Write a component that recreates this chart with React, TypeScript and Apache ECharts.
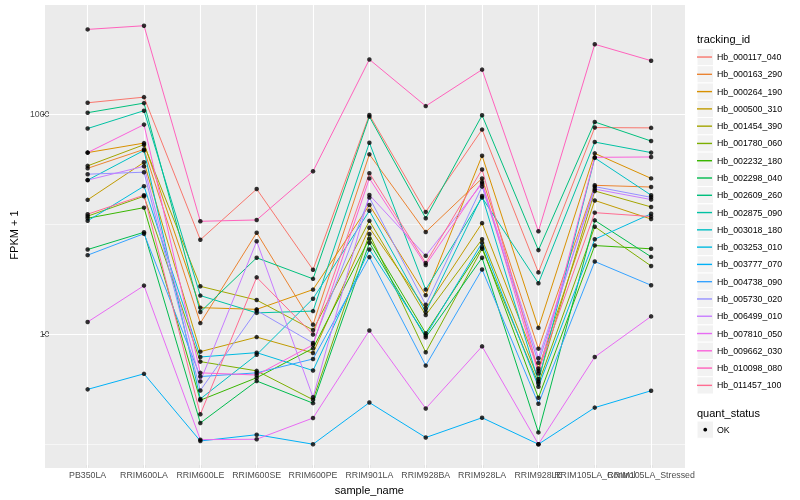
import React, { useEffect, useRef } from 'react';
import * as echarts from 'echarts';

const categories = ['PB350LA', 'RRIM600LA', 'RRIM600LE', 'RRIM600SE', 'RRIM600PE', 'RRIM901LA', 'RRIM928BA', 'RRIM928LA', 'RRIM928LE', 'RRIM105LA_Control', 'RRIM105LA_Stressed'];

const trackingIds = ['Hb_000117_040', 'Hb_000163_290', 'Hb_000264_190', 'Hb_000500_310', 'Hb_001454_390', 'Hb_001780_060', 'Hb_002232_180', 'Hb_002298_040', 'Hb_002609_260', 'Hb_002875_090', 'Hb_003018_180', 'Hb_003253_010', 'Hb_003777_070', 'Hb_004738_090', 'Hb_005730_020', 'Hb_006499_010', 'Hb_007810_050', 'Hb_009662_030', 'Hb_010098_080', 'Hb_011457_100'];

const palette = ['#F8766D', '#EA8331', '#D89000', '#C09B00', '#A3A500', '#7CAE00', '#39B600', '#00BB4E', '#00BF7D', '#00C1A3', '#00BFC4', '#00BAE0', '#00B0F6', '#35A2FF', '#9590FF', '#C77CFF', '#E76BF3', '#FA62DB', '#FF62BC', '#FF6C91'];

const hb_000117_040 = [1265, 1423, 72, 208, 38.5, 980, 129, 722, 36.4, 753, 748];
const hb_000163_290 = [321, 477, 12.6, 83.5, 12.2, 430, 84.7, 260, 7.38, 225, 217];
const hb_000264_190 = [446, 544, 17.4, 16.8, 25.4, 149, 22.6, 418, 11.4, 439, 260];
const hb_000500_310 = [166, 364, 6.93, 9.4, 6.74, 92.6, 17.1, 102, 4.87, 164, 111];
const hb_001454_390 = [338, 526, 27.2, 20.4, 10.9, 107, 14.9, 72.8, 3.91, 200, 143];
const hb_001780_060 = [118, 179, 5.63, 4.64, 2.54, 81.3, 6.84, 59.6, 3.56, 94.6, 41.6];
const hb_002232_180 = [113, 141, 2.51, 4.02, 7.43, 73.7, 10.2, 62, 2.64, 63.8, 59.6];
const hb_002298_040 = [58.7, 84.2, 1.56, 3.75, 2.36, 67.5, 9.34, 49.4, 1.28, 108, 50.4];
const hb_002609_260 = [1028, 1256, 15.9, 49.4, 31.8, 946, 113, 973, 58, 847, 568];
const hb_002875_090 = [738, 1072, 22.4, 15.6, 16.2, 548, 25.4, 174, 29, 556, 446];
const hb_003018_180 = [251, 467, 2.58, 6.5, 21, 132, 15.9, 180, 3.72, 399, 183];
const hb_003253_010 = [107, 221, 6.2, 6.79, 4.67, 58.7, 9.73, 67.5, 3.33, 72.8, 124];
const hb_003777_070 = [3.15, 4.36, 1.07, 1.22, 1.0, 2.39, 1.15, 1.74, 1.0, 2.15, 3.06];
const hb_004738_090 = [52.2, 81.8, 4.12, 4.45, 5.95, 50.1, 5.18, 38.7, 2.33, 45.7, 27.8];
const hb_005730_020 = [284, 296, 3.08, 16.4, 8.3, 174, 18.5, 219, 5.48, 219, 175];
const hb_006499_010 = [251, 335, 3.72, 69.8, 2.67, 184, 51.5, 233, 6.04, 208, 167];
const hb_007810_050 = [12.9, 27.6, 1.1, 1.11, 1.73, 10.8, 2.11, 7.74, 1.0, 6.2, 14.5];
const hb_009662_030 = [446, 801, 4.45, 4.25, 8.0, 260, 42.4, 242, 4.39, 404, 407];
const hb_010098_080 = [5870, 6340, 106, 109, 302, 3130, 1180, 2530, 86, 4300, 3050];
const hb_011457_100 = [123, 183, 1.87, 32.8, 9.94, 290, 44.3, 313, 4.64, 127, 117];

const seriesValues = [hb_000117_040, hb_000163_290, hb_000264_190, hb_000500_310, hb_001454_390, hb_001780_060, hb_002232_180, hb_002298_040, hb_002609_260, hb_002875_090, hb_003018_180, hb_003253_010, hb_003777_070, hb_004738_090, hb_005730_020, hb_006499_010, hb_007810_050, hb_009662_030, hb_010098_080, hb_011457_100];

const yMajorBreaks = [10, 1000];
const yMinorBreaks = [1, 100];
const yMin = 0.646;
const yMax = 9780;

const FONT = 'Liberation Sans, Arial, Helvetica, sans-serif';
const PANEL_L = 45;
const PANEL_R = 685;
const PANEL_T = 5;
const PANEL_B = 468;
const UNIT = (PANEL_R - PANEL_L) / 11.2;
const GRID_L = PANEL_L + 0.1 * UNIT;
const GRID_W = 11 * UNIT;
const KEY_X = 697;
const KEY_TOP = 48.4;
const KEY_H = 17.28;
const KEY_W = 16.5;

export default function App() {
  const ref = useRef<HTMLDivElement>(null);
  useEffect(() => {
    if (!ref.current) return;
    const chart = echarts.init(ref.current, undefined, { renderer: 'svg' });

    const gridLines: any[] = [];
    yMinorBreaks.forEach((v) => {
      gridLines.push([{ x: PANEL_L, yAxis: v, lineStyle: { color: '#ffffff', width: 0.55, type: 'solid' } }, { x: PANEL_R, yAxis: v }]);
    });
    yMajorBreaks.forEach((v) => {
      gridLines.push([{ x: PANEL_L, yAxis: v, lineStyle: { color: '#ffffff', width: 1.1, type: 'solid' } }, { x: PANEL_R, yAxis: v }]);
      gridLines.push([{ x: PANEL_L - 2.7, yAxis: v, lineStyle: { color: '#333333', width: 1.1, type: 'solid' } }, { x: PANEL_L, yAxis: v }]);
    });
    categories.forEach((_, i) => {
      gridLines.push([{ xAxis: i, y: PANEL_T, lineStyle: { color: '#ffffff', width: 1.1, type: 'solid' } }, { xAxis: i, y: PANEL_B }]);
    });

    const points: any[] = [];
    seriesValues.forEach((vals) => vals.forEach((v, i) => points.push([i, v])));

    const lineSeries = trackingIds.map((name, k) => ({
      name,
      type: 'line',
      data: seriesValues[k],
      color: palette[k],
      showSymbol: false,
      symbol: 'none',
      lineStyle: { width: 1, color: palette[k] },
      z: 3,
      silent: true,
    }));

    const graphics: any[] = [
      { type: 'rect', shape: { x: PANEL_L, y: PANEL_T, width: PANEL_R - PANEL_L, height: PANEL_B - PANEL_T }, style: { fill: '#EBEBEB' }, z: -1, silent: true },
      { type: 'text', x: KEY_X, y: 39, style: { text: 'tracking_id', fontSize: 11, fill: '#000', verticalAlign: 'middle', fontFamily: FONT }, z: 1 },
      { type: 'text', x: KEY_X, y: 413, style: { text: 'quant_status', fontSize: 11, fill: '#000', verticalAlign: 'middle', fontFamily: FONT }, z: 1 },
      { type: 'rect', shape: { x: KEY_X, y: 421, width: KEY_W, height: KEY_H }, style: { fill: '#F2F2F2', stroke: '#ffffff', lineWidth: 1 }, z: -1 },
      { type: 'circle', shape: { cx: KEY_X + KEY_W / 2, cy: 421 + KEY_H / 2, r: 1.9 }, style: { fill: '#000' }, z: 1 },
      { type: 'text', x: 717, y: 421 + KEY_H / 2, style: { text: 'OK', fontSize: 8.8, fill: '#000', verticalAlign: 'middle', fontFamily: FONT }, z: 1 },
    ];
    trackingIds.forEach((_, i) => {
      graphics.push({ type: 'rect', shape: { x: KEY_X, y: KEY_TOP + i * KEY_H, width: KEY_W, height: KEY_H }, style: { fill: '#F2F2F2', stroke: '#ffffff', lineWidth: 1 }, z: -1, silent: true });
    });

    chart.setOption({
      animation: false,
      textStyle: { fontFamily: FONT },
      grid: { left: GRID_L, top: PANEL_T, width: GRID_W, height: PANEL_B - PANEL_T, containLabel: false },
      xAxis: {
        type: 'category',
        data: categories,
        boundaryGap: true,
        name: 'sample_name',
        nameLocation: 'middle',
        nameGap: 14,
        nameTextStyle: { fontSize: 11, color: '#000', fontFamily: FONT },
        axisLine: { show: false },
        axisTick: { show: true, alignWithLabel: true, length: 2.7, lineStyle: { color: '#333333', width: 1.1 } },
        axisLabel: { interval: 0, margin: 5, fontSize: 8.8, color: '#4D4D4D', fontFamily: FONT },
        splitLine: { show: false },
      },
      yAxis: {
        type: 'log',
        logBase: 10,
        min: yMin,
        max: yMax,
        name: 'FPKM + 1',
        nameLocation: 'middle',
        nameGap: 33,
        nameTextStyle: { fontSize: 11, color: '#000', fontFamily: FONT },
        axisLine: { show: false },
        axisTick: { show: false },
        splitLine: { show: false },
        axisLabel: {
          margin: 10,
          fontSize: 8.8,
          color: '#4D4D4D',
          fontFamily: FONT,
          formatter: (v: number) => {
            const l = Math.log10(v);
            const r = Math.round(l);
            if (Math.abs(l - r) < 1e-6 && yMajorBreaks.indexOf(Math.pow(10, r)) >= 0) return String(Math.pow(10, r));
            return '';
          },
        },
      },
      legend: {
        data: trackingIds.map((name) => ({ name })),
        orient: 'vertical',
        left: KEY_X,
        top: KEY_TOP,
        padding: 0,
        itemGap: 0,
        itemWidth: 15,
        itemHeight: 1.4,
        icon: 'rect',
        selectedMode: false,
        textStyle: { fontSize: 8.8, color: '#000', lineHeight: KEY_H, fontFamily: FONT },
      },
      graphic: graphics,
      series: [
        ...lineSeries,
        {
          name: 'OK',
          type: 'scatter',
          data: points,
          symbol: 'circle',
          symbolSize: 4.5,
          itemStyle: { color: '#000' },
          z: 5,
          silent: true,
          markLine: {
            silent: true,
            z: 1,
            symbol: ['none', 'none'],
            label: { show: false },
            emphasis: { disabled: true },
            data: gridLines,
          },
        },
      ],
    });
    return () => chart.dispose();
  }, []);
  return <div ref={ref} style={{ position: 'fixed', left: 0, top: 0, width: 800, height: 500 }} />;
}
